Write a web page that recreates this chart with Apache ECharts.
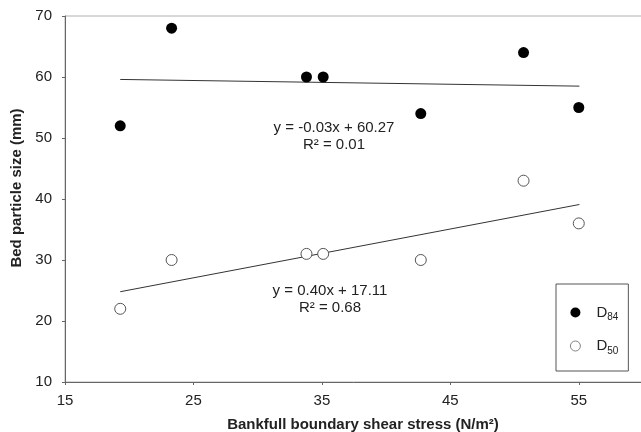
<!DOCTYPE html>
<html>
<head>
<meta charset="utf-8">
<script src="https://cdn.jsdelivr.net/npm/echarts@6/dist/echarts.min.js"></script>
<style>
  html, body { margin: 0; padding: 0; background: #fff; }
  #main { width: 641px; height: 432px; }
</style>
</head>
<body>
<div id="main"></div>
<script>
// shear stress (N/m2) for each reach
var stress = [19.3, 23.3, 33.8, 35.1, 42.7, 50.7, 55.0]
// bed particle sizes (mm)
var d84 = [52, 68, 60, 60, 54, 64, 55]
var d50 = [22, 30, 31, 31, 30, 43, 36]
// trend line end points
var trend84 = [[19.3, 59.6], [55.05, 58.5]]
var trend50 = [[19.3, 24.8], [55.05, 39.1]]
var xTicks = [15, 25, 35, 45, 55]
var yTicks = [10, 20, 30, 40, 50, 60, 70]
var eq84 = ['y = -0.03x + 60.27', 'R² = 0.01']
var eq50 = ['y = 0.40x + 17.11', 'R² = 0.68']

var font = 'Arial, "Liberation Sans", sans-serif'

function pairs (xs, ys) {
  return xs.map(function (x, i) { return [x, ys[i]] })
}

var chart = echarts.init(document.getElementById('main'))
chart.setOption({
  animation: false,
  textStyle: { fontFamily: font },
  grid: {
    left: 65, top: 16, right: -2, bottom: 50,
    outerBoundsMode: 'none',
    show: true, borderColor: '#b0b0b0', borderWidth: 1
  },
  xAxis: {
    type: 'value',
    min: xTicks[0], max: 60, interval: xTicks[1] - xTicks[0],
    name: 'Bankfull boundary shear stress (N/m²)',
    nameLocation: 'middle', nameGap: 35,
    nameTextStyle: { fontSize: 15, fontWeight: 'bold', color: '#222', fontFamily: font, padding: [0, 0, 0, 18] },
    axisLine: { lineStyle: { color: '#666', width: 1 } },
    axisTick: { length: 3, lineStyle: { color: '#666' } },
    axisLabel: { fontSize: 15, color: '#222', margin: 11, showMaxLabel: false },
    splitLine: { show: false }
  },
  yAxis: {
    type: 'value',
    min: yTicks[0], max: yTicks[yTicks.length - 1], interval: 10,
    name: 'Bed particle size (mm)',
    nameLocation: 'middle', nameGap: 38,
    nameTextStyle: { fontSize: 15, fontWeight: 'bold', color: '#222', fontFamily: font, padding: [0, 0, 0, 22] },
    axisLine: { show: true, lineStyle: { color: '#666', width: 1 } },
    axisTick: { show: true, length: 3, lineStyle: { color: '#666' } },
    axisLabel: { fontSize: 15, color: '#222', margin: 13 },
    splitLine: { show: false }
  },
  legend: {
    data: ['D84', { name: 'D50', itemStyle: { borderWidth: 0.8, borderColor: '#666' } }],
    orient: 'vertical',
    left: 556, top: 284,
    padding: [21, 10, 15, 14],
    itemGap: 16,
    itemWidth: 32, itemHeight: 10,
    borderColor: '#555', borderWidth: 1, backgroundColor: '#fff',
    formatter: function (name) {
      return '{m|D}{s|' + name.slice(1) + '}'
    },
    textStyle: {
      color: '#222',
      rich: {
        m: { fontSize: 15, lineHeight: 20, fontFamily: font },
        s: { fontSize: 10, lineHeight: 20, verticalAlign: 'bottom', padding: [6, 0, 0, 0], fontFamily: font }
      }
    }
  },
  graphic: [
    {
      type: 'text', x: 334, y: 119,
      style: { text: eq84.join('\n'), font: '15px ' + font, fill: '#222', align: 'center', lineHeight: 17 }
    },
    {
      type: 'text', x: 330, y: 282,
      style: { text: eq50.join('\n'), font: '15px ' + font, fill: '#222', align: 'center', lineHeight: 17 }
    }
  ],
  series: [
    {
      name: 'D84', type: 'scatter', symbol: 'circle', symbolSize: 11,
      itemStyle: { color: '#000', opacity: 1 },
      data: pairs(stress, d84), z: 3
    },
    {
      name: 'D50', type: 'scatter', symbol: 'circle', symbolSize: 11,
      itemStyle: { color: '#fff', borderColor: '#555', borderWidth: 1, opacity: 1 },
      data: pairs(stress, d50), z: 3
    },
    {
      name: 'trend84', type: 'line', data: trend84, showSymbol: false, z: 2,
      lineStyle: { color: '#333', width: 1 }
    },
    {
      name: 'trend50', type: 'line', data: trend50, showSymbol: false, z: 2,
      lineStyle: { color: '#333', width: 1 }
    }
  ]
})
</script>
</body>
</html>
